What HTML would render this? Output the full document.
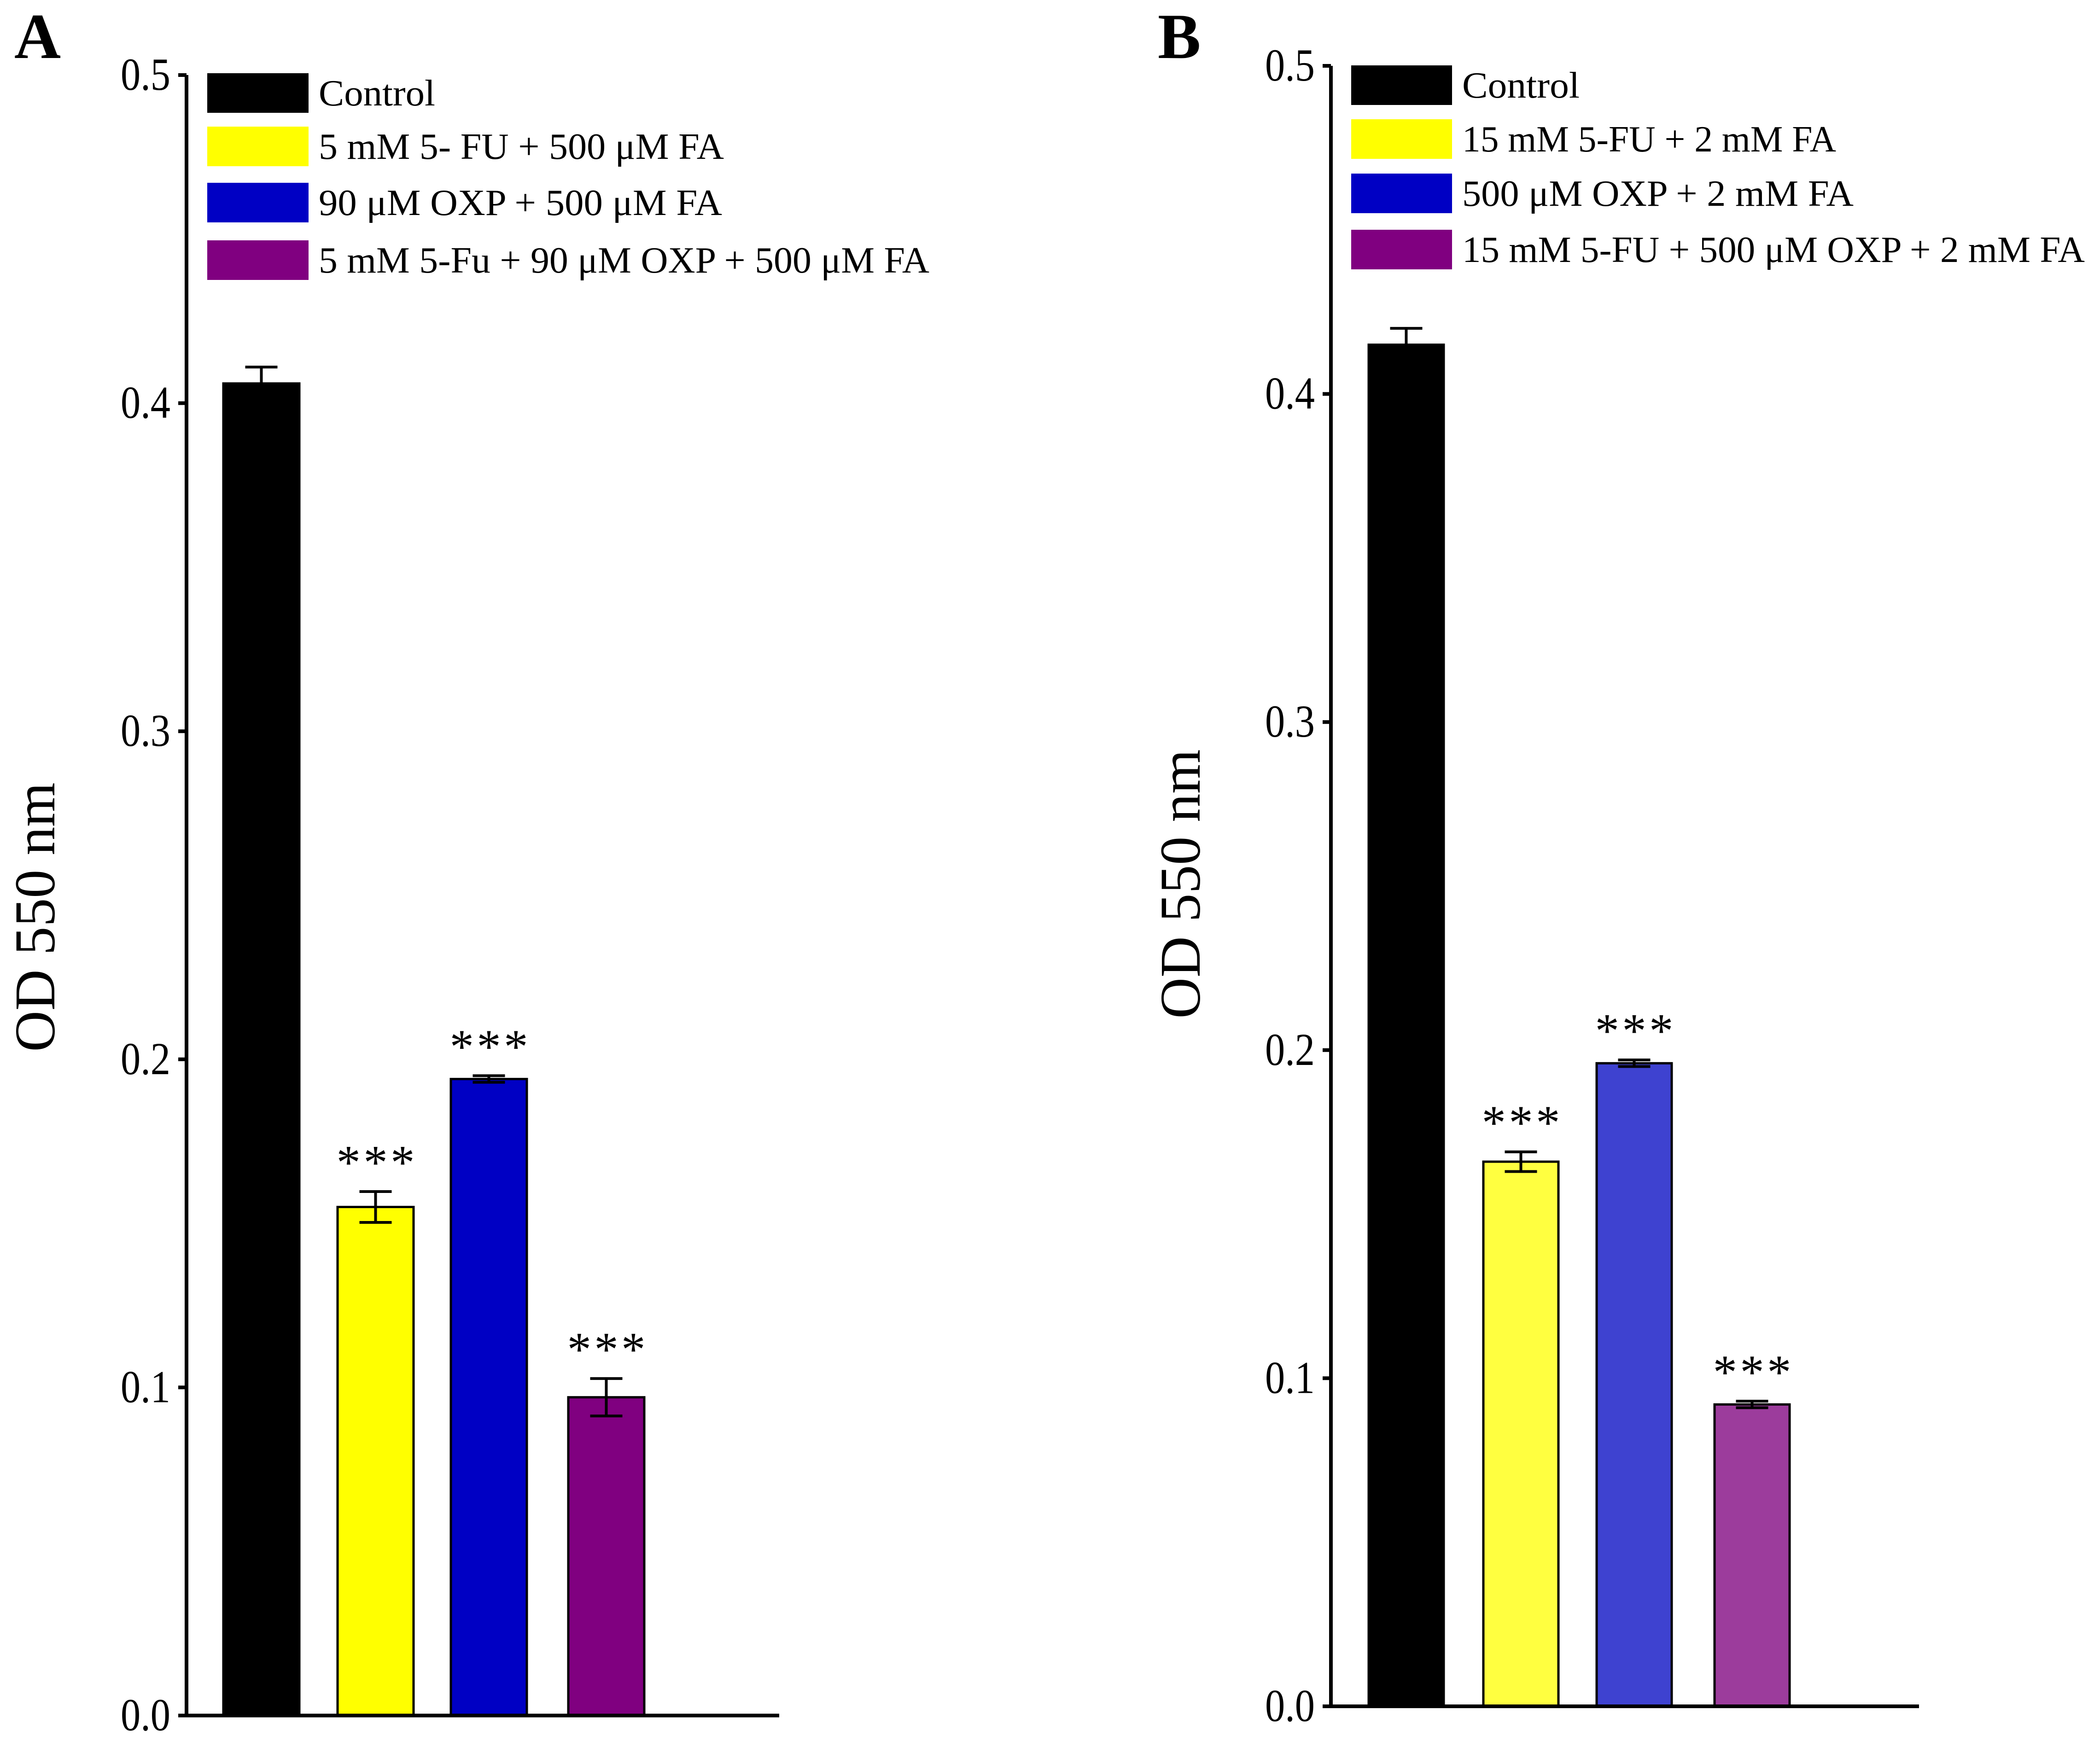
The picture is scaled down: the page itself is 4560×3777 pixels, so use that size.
<!DOCTYPE html>
<html><head><meta charset="utf-8">
<style>html,body{margin:0;padding:0;background:#fff}svg{display:block}</style>
</head><body>
<svg id="chart" xmlns="http://www.w3.org/2000/svg" width="4560" height="3777" viewBox="0 0 4560 3777" font-family="'Liberation Serif', serif">
<rect width="4560" height="3777" fill="#fff"/>
</svg>
<script>
const ticks = [0.0, 0.1, 0.2, 0.3, 0.4, 0.5];
const tickLabels = ["0.0", "0.1", "0.2", "0.3", "0.4", "0.5"];
const valuesA = [0.406, 0.155, 0.194, 0.097];
const errorsA = [0.005, 0.0047, 0.001, 0.0057];
const sigA = ["", "***", "***", "***"];
const labelsA = ["Control", "5 mM 5- FU + 500 μM FA", "90 μM OXP + 500 μM FA", "5 mM 5-Fu + 90 μM OXP + 500 μM FA"];
const colorsA = ["#000000", "#ffff00", "#0000c4", "#800080"];
const legendColorsA = ["#000000", "#ffff00", "#0000c4", "#800080"];
const valuesB = [0.415, 0.166, 0.196, 0.092];
const errorsB = [0.005, 0.003, 0.001, 0.001];
const sigB = ["", "***", "***", "***"];
const labelsB = ["Control", "15 mM 5-FU + 2 mM FA", "500 μM OXP + 2 mM FA", "15 mM 5-FU + 500 μM OXP + 2 mM FA"];
const colorsB = ["#000000", "#ffff40", "#3e42d0", "#9c3c9c"];
const legendColorsB = ["#000000", "#ffff00", "#0000c4", "#800080"];

const NS = "http://www.w3.org/2000/svg";
const svg = document.getElementById("chart");
function mk(tag, attrs, parent) {
  const e = document.createElementNS(NS, tag);
  for (const k in attrs) e.setAttribute(k, attrs[k]);
  (parent || svg).appendChild(e);
  return e;
}

function panel(cfg) {
  const g = mk("g", {});
  
  
  const y = v => cfg.y0 - (v / 0.5) * (cfg.y0 - cfg.y5);
  const L = mk("text", {x: cfg.letterX, y: 126, "font-size": 140, "font-weight": "bold"}, g);
  L.textContent = cfg.letter;
  
  
  const T = mk("text", {x: 0, y: 0, "font-size": 125, "text-anchor": "middle", textLength: 585, lengthAdjust: "spacingAndGlyphs",
    transform: `translate(${cfg.titleX},${cfg.titleY}) rotate(-90)`}, g);
  T.textContent = "OD 550 nm";
  
  
  cfg.values.forEach((v, i) => {
    const x0 = cfg.barX[i], w = cfg.barW;
    const top = y(v);
    const r = mk("rect", {x: x0, y: top, width: w, height: cfg.y0 - top, fill: cfg.colors[i], stroke: "#000", "stroke-width": 5}, g);
    
    
    const cx = x0 + w / 2;
    const eTop = y(v + cfg.errors[i]), eBot = y(v - cfg.errors[i]);
    const eb = mk("path", {d: `M${cx - 35},${eTop}H${cx + 35}M${cx},${eTop}V${eBot}M${cx - 35},${eBot}H${cx + 35}`, stroke: "#000", "stroke-width": 6, fill: "none"}, g);
    
    
    if (cfg.sig[i]) {
      const s = mk("text", {x: cx, y: eTop - 28, "font-size": 105, "text-anchor": "middle", textLength: 170, lengthAdjust: "spacing"}, g);
      s.textContent = cfg.sig[i];
      
      
    }
  });
  const ax = mk("path", {d: `M${cfg.axisX},${cfg.y5}V${cfg.y0}H${cfg.axisEnd}`, stroke: "#000", "stroke-width": 8, fill: "none"}, g);
  
  
  ticks.forEach((t, i) => {
    const ty = y(t);
    const tk = mk("line", {x1: cfg.axisX - 18, x2: cfg.axisX, y1: ty, y2: ty, stroke: "#000", "stroke-width": 8}, g);
    
    
    const tl = mk("text", {x: cfg.axisX - 35, y: ty + 32, "font-size": 100, "text-anchor": "end", textLength: 108, lengthAdjust: "spacingAndGlyphs"}, g);
    tl.textContent = tickLabels[i];
    
    
  });
  cfg.labels.forEach((lab, i) => {
    const cy = cfg.legY[i];
    const sw = mk("rect", {x: cfg.legX, y: cy - 43, width: cfg.swW, height: 86, fill: cfg.legColors[i]}, g);
    
    
    const lt = mk("text", {x: cfg.legX + cfg.swW + 22, y: cy + 27, "font-size": 80, textLength: cfg.legW[i], lengthAdjust: "spacingAndGlyphs"}, g);
    lt.textContent = lab;
    
    
  });
}

panel({name: "panel-a", letter: "A", letterX: 31, titleX: 118, titleY: 1992,
  axisX: 405, axisEnd: 1692, y0: 3726, y5: 163, barX: [485, 733, 979, 1234], barW: 165,
  values: valuesA, errors: errorsA, sig: sigA, colors: colorsA, legColors: legendColorsA, labels: labelsA,
  legX: 450, swW: 220, legY: [202, 318, 440, 565], legW: [253, 880, 876, 1326]});
panel({name: "panel-b", letter: "B", letterX: 2514, titleX: 2605, titleY: 1920,
  axisX: 2890, axisEnd: 4167, y0: 3706, y5: 143, barX: [2972, 3221, 3467, 3723], barW: 163,
  values: valuesB, errors: errorsB, sig: sigB, colors: colorsB, legColors: legendColorsB, labels: labelsB,
  legX: 2934, swW: 219, legY: [185, 302, 420, 542], legW: [255, 812, 850, 1352]});
</script>
</body></html>
